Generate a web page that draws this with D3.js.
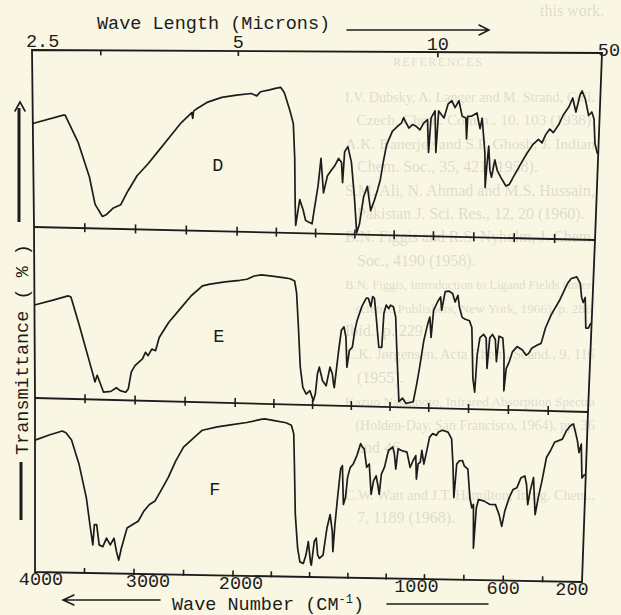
<!DOCTYPE html>
<html>
<head>
<meta charset="utf-8">
<script src="https://cdn.jsdelivr.net/npm/d3@7"></script>
<style>
  html, body { margin: 0; padding: 0; background: #f9f7e4; }
  #wrapper { width: 621px; height: 615px; overflow: hidden; }
  .mono text { font-family: "Liberation Mono", "DejaVu Sans Mono", monospace; }
  .ghost text { font-family: "Liberation Serif", "DejaVu Serif", serif; }
</style>
</head>
<body>
<div id="wrapper"></div>
<script>
// 1. Data (wave number in cm-1, transmittance in % of panel height)
const spectrumD = [
  [4000,58.5],[3702,63.4],[3684,63.4],[3558,48.0],[3451,28.8],[3397,13.5],[3325,6.8],[3289,7.8],
  [3217,11.7],[3145,13.6],[3074,21.4],[2984,30.0],[2876,36.8],[2768,44.5],[2661,52.2],[2553,59.9],
  [2450,65.6],[2440,62.5],[2432,66.5],[2409,67.5],[2302,71.4],[2158,74.3],[2014,75.6],[1933,76.6],
  [1906,75.3],[1887,77.6],[1841,78.7],[1813,79.5],[1785,80.1],[1767,77.2],[1739,67.7],[1720,60.2],
  [1711,41.2],[1706,16.6],[1702,4.2],[1683,18.5],[1665,12.8],[1652,7.1],[1637,6.2],[1619,5.3],
  [1609,12.9],[1591,26.2],[1578,41.3],[1563,22.4],[1544,31.9],[1526,34.7],[1507,37.6],[1489,41.4],
  [1474,39.4],[1467,28.2],[1459,45.2],[1443,48.0],[1424,39.5],[1406,20.7],[1391,1.0],[1378,5.6],
  [1359,20.7],[1341,26.4],[1322,13.2],[1304,18.9],[1289,24.6],[1276,30.2],[1263,39.7],[1248,49.1],
  [1220,56.7],[1193,59.5],[1174,61.4],[1165,64.2],[1156,62.3],[1137,58.6],[1119,60.5],[1100,59.6],
  [1081,57.7],[1063,61.4],[1044,63.3],[1035,45.5],[1026,64.3],[1007,68.1],[998,45.5],[989,68.1],
  [962,64.3],[944,71.8],[926,73.7],[909,70.0],[891,73.7],[873,65.3],[855,64.4],[849,53.1],
  [846,65.3],[828,65.4],[801,67.2],[792,62.5],[784,58.8],[775,64.4],[757,45.7],[751,27.0],
  [746,38.2],[739,49.4],[730,36.4],[721,32.6],[707,42.0],[694,36.4],[676,32.7],[649,28.0],
  [632,28.9],[614,32.8],[596,36.5],[578,40.3],[550,45.8],[523,50.5],[505,52.4],[496,53.4],
  [478,51.5],[460,56.2],[442,59.0],[424,57.1],[397,61.8],[379,66.5],[352,71.1],[335,75.8],
  [317,68.3],[299,77.7],[290,79.6],[272,74.9],[254,66.5],[239,68.4],[227,64.7],[218,51.6],[204,46.1]
]
const spectrumE = [
  [4000,54.4],[3815,57.5],[3667,60.2],[3638,59.6],[3556,43.2],[3464,23.8],[3427,16.1],[3401,10.3],
  [3379,14.2],[3353,10.3],[3316,4.5],[3242,5.0],[3187,7.2],[3150,5.6],[3094,4.7],[3068,6.7],
  [3039,16.5],[3002,20.4],[2928,24.4],[2898,28.3],[2872,26.4],[2835,30.3],[2798,29.4],[2762,37.2],
  [2669,46.1],[2558,54.0],[2447,62.0],[2336,67.9],[2262,69.0],[2115,70.6],[1983,71.7],[1947,72.4],
  [1910,74.4],[1873,75.1],[1818,74.6],[1762,73.8],[1726,73.3],[1703,72.0],[1692,65.1],[1680,45.5],
  [1667,22.0],[1652,10.2],[1634,6.3],[1615,8.3],[1597,2.5],[1587,6.4],[1578,18.2],[1569,22.2],
  [1551,14.3],[1532,11.4],[1514,22.3],[1501,18.4],[1494,12.5],[1490,10.5],[1483,18.4],[1471,32.2],
  [1459,44.0],[1446,46.0],[1435,40.1],[1427,22.5],[1416,32.3],[1401,34.3],[1390,44.2],[1379,50.1],
  [1357,58.0],[1335,63.0],[1324,63.0],[1311,58.1],[1302,64.1],[1293,63.1],[1284,54.3],[1265,34.6],
  [1250,34.6],[1243,54.3],[1232,59.3],[1219,57.3],[1210,59.3],[1195,58.4],[1182,52.5],[1173,34.8],
  [1164,19.0],[1155,3.3],[1136,5.3],[1118,2.3],[1081,3.4],[1066,13.3],[1053,23.2],[1035,39.0],
  [1017,48.9],[1007,52.9],[998,41.1],[989,56.9],[971,61.8],[956,64.8],[949,57.0],[934,67.9],
  [916,68.3],[897,67.0],[883,62.1],[870,66.0],[861,59.1],[846,53.2],[833,52.3],[809,51.3],
  [796,47.4],[783,17.8],[772,9.9],[765,31.7],[754,41.6],[736,43.6],[723,41.6],[714,23.8],
  [705,41.7],[692,43.7],[677,40.8],[668,27.9],[659,42.8],[640,41.8],[631,31.9],[626,11.1],
  [618,24.0],[604,28.0],[589,34.0],[567,37.0],[540,35.1],[521,32.1],[508,33.2],[494,36.2],
  [466,38.2],[448,39.2],[429,48.2],[402,56.2],[365,64.2],[328,74.3],[310,77.3],[283,78.3],
  [264,74.4],[255,66.5],[246,63.5],[237,66.5],[228,48.7],[215,48.7],[204,51.7]
]
const spectrumF = [
  [4000,75.8],[3858,78.9],[3727,81.4],[3690,80.4],[3634,76.3],[3559,62.7],[3484,43.4],[3447,27.8],
  [3417,16.2],[3402,27.9],[3379,27.9],[3353,16.3],[3316,15.3],[3279,20.3],[3241,16.4],[3204,20.3],
  [3178,12.6],[3155,7.7],[3129,14.6],[3073,26.3],[3017,28.4],[2961,30.4],[2905,36.3],[2849,40.2],
  [2793,42.3],[2736,48.2],[2662,56.1],[2587,65.9],[2512,73.8],[2400,79.8],[2325,83.8],[2176,86.0],
  [2026,87.5],[1939,88.9],[1865,90.9],[1847,91.3],[1810,90.6],[1736,89.3],[1708,88.0],[1695,83.1],
  [1689,65.5],[1680,36.1],[1665,16.6],[1652,8.7],[1634,7.8],[1621,12.7],[1610,20.6],[1597,8.9],
  [1592,6.9],[1579,20.7],[1569,22.7],[1560,12.9],[1551,10.9],[1532,12.9],[1514,28.7],[1499,36.5],
  [1486,26.8],[1481,15.0],[1473,30.7],[1462,46.4],[1449,63.2],[1440,65.2],[1431,42.6],[1421,46.6],
  [1412,58.4],[1399,64.3],[1384,66.3],[1366,71.2],[1348,78.2],[1338,76.2],[1329,75.3],[1314,64.5],
  [1301,66.5],[1288,48.8],[1277,56.7],[1264,59.7],[1255,54.8],[1246,48.9],[1237,60.8],[1222,64.7],
  [1203,74.6],[1181,76.7],[1172,72.7],[1163,63.9],[1153,75.7],[1135,74.8],[1107,73.9],[1089,65.1],
  [1074,69.1],[1061,72.0],[1055,58.3],[1048,67.2],[1037,68.2],[1030,75.1],[1018,67.2],[1006,74.2],
  [992,83.0],[977,85.1],[958,84.1],[948,86.1],[929,87.2],[900,86.2],[881,82.3],[871,67.6],
  [862,47.9],[852,67.6],[839,69.6],[823,69.7],[814,66.7],[795,64.8],[781,48.1],[770,42.2],
  [762,44.2],[756,18.6],[747,42.2],[737,47.2],[708,46.3],[679,44.4],[651,44.4],[631,38.6],
  [616,31.7],[603,40.6],[583,48.5],[564,53.5],[545,54.6],[526,60.5],[507,61.6],[497,56.6],
  [488,44.8],[478,52.7],[463,60.7],[449,39.0],[436,48.9],[420,58.8],[401,72.7],[382,76.7],
  [363,81.7],[324,83.7],[305,88.7],[286,91.7],[271,92.8],[257,86.9],[248,82.9],[238,76.0],
  [228,81.0],[219,61.2],[205,63.3]
]
const spectra = [spectrumD, spectrumE, spectrumF]
const panelNames = ["D", "E", "F"]
const panelNameAt = [[2194, 36], [2170, 38], [2194, 49]]

const wavelengthTicks = [3, 5, 10]
const wavelengthLabels = ["2.5", "5", "10", "50"]
const wavelengthLabelValues = [2.5, 5, 10, 50]
const wavenumberTicks = [3500, 3000, 2500, 2000, 1800, 1600, 1400, 1200, 1000, 800, 600, 400]
const wavenumberLabels = [4000, 3000, 2000, 1000, 600, 200]

// faint show-through text of the printed page behind the figure
const pageLines = [
  "I.V. Dubsky, A. Langer and M. Strand, Coll.",
  "   Czech. Chem. Comm., 10, 103 (1938).",
  "A.K. Banerjee and S.P. Ghosh, J. Indian",
  "   Chem. Soc., 35, 421 (1958).",
  "S.M. Ali, N. Ahmad and M.S. Hussain,",
  "   Pakistan J. Sci. Res., 12, 20 (1960).",
  "B.N. Figgis and R.S. Nyholm, J. Chem.",
  "   Soc., 4190 (1958).",
  "B.N. Figgis, Introduction to Ligand Fields (Inter-",
  "   science Publishers, New York, 1966), p. 286.",
  "Ibid., p. 229.",
  "C.K. Jørgensen, Acta Chem. Scand., 9, 116",
  "   (1955).",
  "Kazuo Nakamoto, Infrared Absorption Spectra",
  "   (Holden-Day, San Francisco, 1964), pp. 36",
  "   and 46.",
  "",
  "C.W. Watt and J.T. Hamilton, Inorg. Chem.,",
  "   7, 1189 (1968).",
]

// 2. Dimensions (the scanned frame is slightly skewed: corners per row)
const dimensions = { width: 621, height: 615 }
const rowEdges = [
  { l: [32, 50], r: [602, 53] },
  { l: [34, 227], r: [595, 240] },
  { l: [35, 398], r: [588, 412] },
  { l: [35, 572], r: [582, 582] },
]
const ink = "#1c1c1c"

// 3. Canvas
const svg = d3.select("#wrapper")
  .append("svg")
  .attr("width", dimensions.width)
  .attr("height", dimensions.height)
  .style("background-color", "#f9f7e4")

// 4. Scales
const xScale = d3.scaleLinear().domain([4000, 2000, 1000, 200]).range([0, 0.362, 0.712, 1])
const yScale = d3.scaleLinear().domain([0, 100]).range([1, 0])

const edgePoint = (row, u) => {
  const e = rowEdges[row]
  return [e.l[0] + (e.r[0] - e.l[0]) * u, e.l[1] + (e.r[1] - e.l[1]) * u]
}
const project = (panel, wn, t) => {
  const u = xScale(wn), v = yScale(t)
  const a = edgePoint(panel, u), b = edgePoint(panel + 1, u)
  return [a[0] + (b[0] - a[0]) * v, a[1] + (b[1] - a[1]) * v]
}

// page show-through
const ghost = svg.append("g")
  .attr("class", "ghost")
  .style("font-size", "16px")
  .attr("fill", "#000")
  .attr("opacity", 0.11)
ghost.append("text").attr("x", 540).attr("y", 16).text("this work.")
ghost.append("text").attr("x", 393).attr("y", 66)
  .style("font-size", "12px").style("letter-spacing", "1.5px").text("REFERENCES")
ghost.selectAll("text.line")
  .data(pageLines)
  .join("text")
  .attr("class", "line")
  .attr("x", 345)
  .attr("y", (d, i) => 102 + i * 23.4)
  .attr("xml:space", "preserve")
  .text(d => d)
  .each(function () {
    const room = 250
    const len = this.getComputedTextLength()
    if (len > room) d3.select(this).style("font-size", `${(16 * room / len).toFixed(2)}px`)
  })

// 5. Spectra
const lineGen = d3.line().curve(d3.curveLinear)
const plots = svg.append("g")
spectra.forEach((spec, i) => {
  plots.append("path")
    .attr("d", lineGen(spec.map(d => project(i, d[0], d[1]))))
    .attr("fill", "none")
    .attr("stroke", ink)
    .attr("stroke-width", 1.7)
    .attr("stroke-linejoin", "round")
})

// 6. Peripherals
const frame = svg.append("g").attr("stroke", ink).attr("fill", "none").attr("stroke-width", 1.8)
const outline = [
  rowEdges[0].l, ...rowEdges.map(e => e.r), ...rowEdges.slice().reverse().map(e => e.l),
]
frame.append("path").attr("d", d3.line()(outline) + "Z")
;[1, 2].forEach(row => {
  frame.append("line")
    .attr("x1", rowEdges[row].l[0]).attr("y1", rowEdges[row].l[1])
    .attr("x2", rowEdges[row].r[0]).attr("y2", rowEdges[row].r[1])
})

// wave number ticks on dividers and bottom axis
;[1, 2, 3].forEach(row => {
  frame.selectAll(null)
    .data(wavenumberTicks)
    .join("line")
    .attr("x1", d => edgePoint(row, xScale(d))[0])
    .attr("x2", d => edgePoint(row, xScale(d))[0])
    .attr("y1", d => edgePoint(row, xScale(d))[1] - 5)
    .attr("y2", d => edgePoint(row, xScale(d))[1] + (row === 3 ? 1 : 4))
    .attr("stroke-width", 1.6)
})
// wavelength ticks on top axis
frame.selectAll(null)
  .data(wavelengthTicks)
  .join("line")
  .attr("x1", d => edgePoint(0, xScale(1e4 / d))[0])
  .attr("x2", d => edgePoint(0, xScale(1e4 / d))[0])
  .attr("y1", d => edgePoint(0, xScale(1e4 / d))[1])
  .attr("y2", d => edgePoint(0, xScale(1e4 / d))[1] + 5)
  .attr("stroke-width", 1.6)

const labels = svg.append("g").attr("class", "mono").attr("fill", ink).style("font-size", "18.5px")

const topPlacement = [
  { anchor: "start", dx: -6, dy: -3 },
  { anchor: "middle", dx: 0, dy: -3 },
  { anchor: "middle", dx: 0, dy: -2 },
  { anchor: "end", dx: 18, dy: 3 },
]
labels.selectAll(null)
  .data(wavelengthLabels)
  .join("text")
  .attr("x", (d, i) => edgePoint(0, xScale(1e4 / wavelengthLabelValues[i]))[0] + topPlacement[i].dx)
  .attr("y", (d, i) => edgePoint(0, xScale(1e4 / wavelengthLabelValues[i]))[1] + topPlacement[i].dy)
  .attr("text-anchor", (d, i) => topPlacement[i].anchor)
  .text(d => d)

const bottomNudge = [6, 14, 8, -8, 0, -10]
labels.selectAll(null)
  .data(wavenumberLabels)
  .join("text")
  .attr("x", (d, i) => edgePoint(3, xScale(d))[0] + bottomNudge[i])
  .attr("y", d => edgePoint(3, xScale(d))[1] + 13)
  .attr("text-anchor", "middle")
  .text(d => d)

// panel names
labels.selectAll(null)
  .data(panelNames)
  .join("text")
  .attr("x", (d, i) => project(i, panelNameAt[i][0], panelNameAt[i][1])[0])
  .attr("y", (d, i) => project(i, panelNameAt[i][0], panelNameAt[i][1])[1])
  .attr("text-anchor", "middle")
  .attr("dominant-baseline", "central")
  .text(d => d)

// axis titles
labels.append("text").attr("x", 97).attr("y", 29).text("Wave Length (Microns)")
labels.append("text")
  .attr("x", 172).attr("y", 610)
  .text("Wave Number (CM")
  .call(t => t.append("tspan").attr("dy", -7).style("font-size", "12px").text("-1"))
  .call(t => t.append("tspan").attr("dy", 7).text(")"))
labels.append("text")
  .attr("transform", "translate(28,455) rotate(-90)")
  .text("Transmittance ( % )")

const arrows = svg.append("g").attr("stroke", ink).attr("fill", "none")
  .attr("stroke-width", 1.5).attr("stroke-linecap", "round")
arrows.append("path").attr("d", "M347,30H488M479,25L489,30L479,35")
arrows.append("path").attr("d", "M160,600H64M74,595L63,600L74,605")
arrows.append("path").attr("d", "M387,604H488")
arrows.append("path").attr("d", "M19,108V222").attr("stroke-width", 3).attr("stroke-linecap", "butt")
arrows.append("path").attr("d", "M15,111L20,102L25,111").attr("stroke-width", 1.6)
arrows.append("path").attr("d", "M21,462V520").attr("stroke-width", 3).attr("stroke-linecap", "butt")
</script>
</body>
</html>
